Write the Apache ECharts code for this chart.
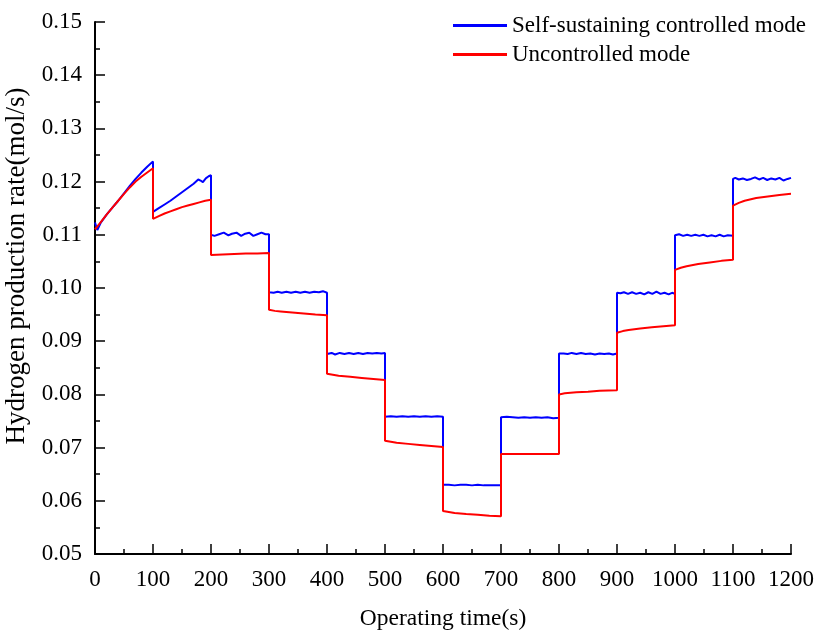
<!DOCTYPE html>
<html>
<head>
<meta charset="utf-8">
<title>Hydrogen production rate</title>
<script src="https://cdn.jsdelivr.net/npm/echarts@6/dist/echarts.min.js"></script>
<style>
  html, body { margin: 0; padding: 0; background: #fff; }
  #chart { width: 816px; height: 633px; }
</style>
</head>
<body>
<div id="chart"></div>
<script>
// Series names (legend entries)
const seriesNames = ['Self-sustaining controlled mode', 'Uncontrolled mode'];

// Axis titles
const xTitle = 'Operating time(s)';
const yTitle = 'Hydrogen production rate(mol/s)';

// Self-sustaining controlled mode: [time (s), rate (mol/s)]
const controlledMode = [
  [0, 0.1123], [4, 0.1109], [10, 0.1123], [20, 0.1138], [30, 0.1151], [40, 0.1164],
  [50, 0.1178], [60, 0.1192], [70, 0.1205], [80, 0.1217], [90, 0.1228], [100, 0.1238],
  [100, 0.1143], [110, 0.1150], [120, 0.1157], [130, 0.1164], [140, 0.1172], [150, 0.1180],
  [160, 0.1188], [170, 0.1196], [178, 0.1204], [182, 0.1202], [186, 0.1199], [191, 0.1206],
  [196, 0.1210], [200, 0.1212],
  [200, 0.1100], [206, 0.1098], [214, 0.1101], [222, 0.1104], [230, 0.1099], [236, 0.1102],
  [244, 0.1104], [252, 0.1098], [259, 0.1102], [266, 0.1104], [273, 0.1098], [280, 0.1101],
  [287, 0.1104], [294, 0.1101], [300, 0.1101],
  [300, 0.0992], [308, 0.0991], [315, 0.0993], [322, 0.0991], [330, 0.0993], [338, 0.0991],
  [346, 0.0993], [354, 0.0991], [362, 0.0993], [370, 0.0991], [378, 0.0993], [386, 0.0992],
  [393, 0.0994], [400, 0.0991],
  [400, 0.0876], [408, 0.0878], [414, 0.0875], [422, 0.0878], [430, 0.0876], [438, 0.0878],
  [446, 0.0876], [454, 0.0878], [462, 0.0876], [470, 0.0878], [478, 0.0877], [486, 0.0878],
  [494, 0.0877], [500, 0.0878],
  [500, 0.0758], [510, 0.0759], [520, 0.0758], [530, 0.0759], [540, 0.0758], [550, 0.0759],
  [560, 0.0758], [570, 0.0759], [580, 0.0758], [590, 0.0759], [600, 0.0758],
  [600, 0.0630], [610, 0.0630], [620, 0.0629], [630, 0.0630], [640, 0.0630], [650, 0.0629],
  [660, 0.0630], [670, 0.0629], [680, 0.0629], [690, 0.0629], [700, 0.0629],
  [700, 0.0757], [710, 0.0758], [720, 0.0757], [730, 0.0756], [740, 0.0757], [750, 0.0756],
  [760, 0.0757], [770, 0.0756], [780, 0.0757], [790, 0.0755], [800, 0.0756],
  [800, 0.0877], [808, 0.0877], [815, 0.0876], [822, 0.0878], [830, 0.0876], [838, 0.0878],
  [846, 0.0876], [854, 0.0877], [862, 0.0875], [870, 0.0877], [878, 0.0876], [886, 0.0877],
  [893, 0.0875], [900, 0.0877],
  [900, 0.0991], [906, 0.0990], [912, 0.0992], [919, 0.0989], [926, 0.0992], [933, 0.0989],
  [940, 0.0991], [947, 0.0988], [954, 0.0992], [961, 0.0989], [968, 0.0993], [975, 0.0989],
  [982, 0.0991], [989, 0.0988], [995, 0.0991], [1000, 0.0989],
  [1000, 0.1099], [1007, 0.1101], [1014, 0.1098], [1021, 0.1100], [1028, 0.1098], [1035, 0.1100],
  [1042, 0.1098], [1049, 0.1100], [1056, 0.1097], [1063, 0.1099], [1070, 0.1097], [1077, 0.1100],
  [1084, 0.1097], [1091, 0.1099], [1100, 0.1098],
  [1100, 0.1205], [1104, 0.1207], [1110, 0.1204], [1117, 0.1206], [1124, 0.1203], [1131, 0.1205],
  [1138, 0.1208], [1145, 0.1204], [1152, 0.1207], [1159, 0.1203], [1166, 0.1206], [1173, 0.1204],
  [1180, 0.1207], [1187, 0.1202], [1194, 0.1205], [1200, 0.1207]
];

// Uncontrolled mode: [time (s), rate (mol/s)]
const uncontrolledMode = [
  [0, 0.1110], [10, 0.1124], [20, 0.1138], [30, 0.1151], [40, 0.1164], [50, 0.1177],
  [60, 0.1189], [70, 0.1200], [80, 0.1209], [90, 0.1217], [100, 0.1225],
  [100, 0.1130], [110, 0.1135], [120, 0.1140], [130, 0.1144], [140, 0.1148], [150, 0.1152],
  [160, 0.1155], [170, 0.1158], [180, 0.1161], [190, 0.1164], [200, 0.1166],
  [200, 0.1062], [220, 0.1063], [240, 0.1064], [260, 0.1065], [280, 0.1065], [300, 0.1066],
  [300, 0.0959], [310, 0.0957], [320, 0.0956], [340, 0.0954], [360, 0.0952], [380, 0.0950], [400, 0.0949],
  [400, 0.0839], [410, 0.0837], [420, 0.0835], [440, 0.0833], [460, 0.0831], [480, 0.0829], [500, 0.0827],
  [500, 0.0713], [510, 0.0711], [520, 0.0709], [540, 0.0707], [560, 0.0705], [580, 0.0703], [600, 0.0701],
  [600, 0.0581], [610, 0.0579], [620, 0.0577], [640, 0.0575], [660, 0.0574], [680, 0.0572], [700, 0.0571],
  [700, 0.0688], [750, 0.0688], [800, 0.0688],
  [800, 0.0800], [810, 0.0802], [830, 0.0804], [850, 0.0805], [870, 0.0807], [900, 0.0808],
  [900, 0.0916], [910, 0.0919], [920, 0.0921], [940, 0.0924], [960, 0.0926], [980, 0.0928], [1000, 0.0930],
  [1000, 0.1034], [1010, 0.1038], [1020, 0.1041], [1040, 0.1045], [1060, 0.1048], [1080, 0.1051], [1100, 0.1053],
  [1100, 0.1155], [1110, 0.1160], [1120, 0.1164], [1140, 0.1169], [1160, 0.1172], [1180, 0.1175], [1200, 0.1177]
];

const FONT = "'Liberation Serif', 'Times New Roman', serif";
const FS = 23;

const chart = echarts.init(document.getElementById('chart'), null, { renderer: 'canvas' });

const axisCommon = {
  axisLine: { show: true, onZero: false, lineStyle: { color: '#000', width: 2 } },
  axisTick: { show: true, inside: true, length: 10, lineStyle: { color: '#000', width: 1.5 } },
  minorTick: { show: true, splitNumber: 2, length: 5, lineStyle: { color: '#000', width: 1.5 } },
  splitLine: { show: false },
  minorSplitLine: { show: false }
};

chart.setOption({
  animation: false,
  backgroundColor: '#fff',
  grid: { left: 95, right: 25, top: 22, bottom: 79, containLabel: false, outerBoundsMode: 'none' },
  legend: {
    orient: 'vertical',
    left: 453,
    top: 14,
    padding: 0,
    itemWidth: 54,
    itemHeight: 3,
    itemGap: 6,
    icon: 'rect',
    textStyle: { fontFamily: FONT, fontSize: FS, color: '#000' },
    data: seriesNames
  },
  xAxis: Object.assign({}, axisCommon, {
    type: 'value',
    min: 0,
    max: 1200,
    interval: 100,
    name: xTitle,
    nameLocation: 'middle',
    nameGap: 53,
    nameTextStyle: { fontFamily: FONT, fontSize: 23.5, color: '#000' },
    axisLabel: { fontFamily: FONT, fontSize: FS, color: '#000', margin: 14, formatter: v => String(v) }
  }),
  yAxis: Object.assign({}, axisCommon, {
    type: 'value',
    min: 0.05,
    max: 0.15,
    interval: 0.01,
    name: yTitle,
    nameLocation: 'middle',
    nameGap: 56,
    nameTextStyle: { fontFamily: FONT, fontSize: 27, color: '#000', padding: [0, 0, 0, 44] },
    axisLabel: {
      fontFamily: FONT, fontSize: FS, color: '#000', margin: 13,
      formatter: v => v.toFixed(2)
    }
  }),
  series: [
    {
      name: seriesNames[0],
      type: 'line',
      data: controlledMode,
      showSymbol: false,
      symbol: 'none',
      smooth: false,
      lineStyle: { color: '#0000ff', width: 2 },
      itemStyle: { color: '#0000ff' }
    },
    {
      name: seriesNames[1],
      type: 'line',
      data: uncontrolledMode,
      showSymbol: false,
      symbol: 'none',
      smooth: false,
      lineStyle: { color: '#ff0000', width: 2 },
      itemStyle: { color: '#ff0000' }
    }
  ]
});
</script>
</body>
</html>
